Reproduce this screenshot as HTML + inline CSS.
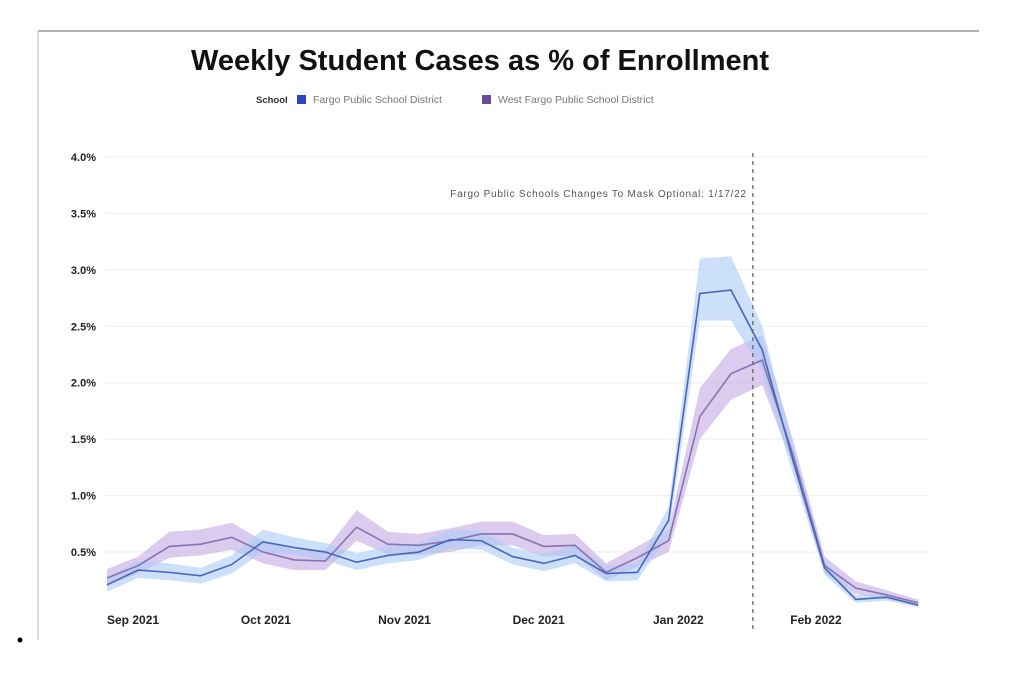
<!DOCTYPE html>
<html><head><meta charset="utf-8"><style>
body{margin:0;background:#fff;width:1024px;height:675px;overflow:hidden;font-family:"Liberation Sans",sans-serif}
</style></head><body>
<svg width="1024" height="675" xmlns="http://www.w3.org/2000/svg">
<line x1="38" y1="31" x2="979" y2="31" stroke="#999" stroke-width="1.5"/>
<line x1="38" y1="31" x2="38" y2="640" stroke="#bbb" stroke-width="1"/>
<circle cx="20" cy="640" r="2.5" fill="#000"/>
<text x="480" y="70" text-anchor="middle" font-size="29" font-weight="bold" fill="#111">Weekly Student Cases as % of Enrollment</text>
<g font-size="10.5">
<text x="256" y="103" font-weight="bold" font-size="9.5" fill="#333">School</text>
<rect x="297" y="95" width="9" height="9" fill="#2a45c4"/>
<text x="313" y="103" fill="#777">Fargo Public School District</text>
<rect x="482" y="95" width="9" height="9" fill="#6a4a9a"/>
<text x="498" y="103" fill="#777">West Fargo Public School District</text>
</g>
<g id="plot"></g>
</svg>
<script>
const yTicks=[0.5,1.0,1.5,2.0,2.5,3.0,3.5,4.0];
const monthLabels=["Sep 2021","Oct 2021","Nov 2021","Dec 2021","Jan 2022","Feb 2022"];
const monthIdx=[0,4.29,8.69,13.0,17.5,21.9];
const maskWeek=20.7;
const fargo=[0.21,0.34,0.32,0.29,0.39,0.59,0.54,0.50,0.41,0.47,0.50,0.61,0.60,0.46,0.40,0.47,0.31,0.32,0.78,2.79,2.82,2.29,1.30,0.36,0.08,0.10,0.03];
const fargoLo=[0.15,0.27,0.25,0.22,0.31,0.50,0.47,0.43,0.34,0.40,0.43,0.53,0.52,0.39,0.33,0.40,0.24,0.25,0.65,2.55,2.55,2.10,1.18,0.30,0.05,0.07,0.01];
const fargoHi=[0.28,0.42,0.40,0.36,0.47,0.70,0.63,0.58,0.49,0.55,0.58,0.70,0.68,0.54,0.48,0.56,0.38,0.40,0.90,3.10,3.12,2.50,1.42,0.43,0.12,0.13,0.06];
const wf=[0.27,0.38,0.55,0.57,0.63,0.50,0.43,0.42,0.72,0.57,0.56,0.60,0.66,0.66,0.55,0.56,0.32,0.45,0.60,1.70,2.08,2.20,1.35,0.38,0.18,0.12,0.05];
const wfLo=[0.20,0.31,0.45,0.47,0.52,0.40,0.34,0.34,0.60,0.48,0.47,0.50,0.56,0.56,0.46,0.47,0.25,0.37,0.50,1.50,1.85,1.98,1.25,0.31,0.13,0.08,0.02];
const wfHi=[0.35,0.46,0.68,0.70,0.76,0.60,0.52,0.52,0.87,0.68,0.66,0.71,0.77,0.77,0.65,0.66,0.40,0.55,0.70,1.95,2.30,2.42,1.48,0.46,0.24,0.16,0.08];
const NS="http://www.w3.org/2000/svg";
const g=document.getElementById('plot');
const X=i=>107+i*31.2, Y=v=>608.5-v*112.9;
function mk(t,a){const e=document.createElementNS(NS,t);for(const k in a)e.setAttribute(k,a[k]);g.appendChild(e);return e;}
yTicks.forEach(v=>{
 const l=mk('line',{x1:105,x2:928,y1:Y(v),y2:Y(v),stroke:'#eee','stroke-width':1});
 
 
 const t=mk('text',{x:96,y:Y(v)+4,'text-anchor':'end','font-size':11,'font-weight':'bold',fill:'#222'});
 t.textContent=v.toFixed(1)+'%';
 
 
});
monthLabels.forEach((m,i)=>{
 const t=mk('text',{x:X(monthIdx[i]),y:624,'font-size':12,'font-weight':'bold',fill:'#222'});
 t.textContent=m;
 
 
});
function band(lo,hi,col,name){
 let d='M'+lo.map((v,i)=>X(i)+','+Y(v)).join('L');
 for(let i=hi.length-1;i>=0;i--)d+='L'+X(i)+','+Y(hi[i]);
 const p=mk('path',{d:d+'Z',fill:col});
 
 
}
function line(vals,col,name){
 const p=mk('path',{d:'M'+vals.map((v,i)=>X(i)+','+Y(v)).join('L'),fill:'none',stroke:col,'stroke-width':1.6});
 
 
}
band(wfLo,wfHi,'rgba(190,160,225,0.55)','west-fargo-band');
band(fargoLo,fargoHi,'rgba(170,205,245,0.6)','fargo-band');
line(wf,'#8a72b0','west-fargo-line');
line(fargo,'#4a64b8','fargo-line');
const dl=mk('line',{x1:X(maskWeek),x2:X(maskWeek),y1:153,y2:632,stroke:'#666','stroke-width':1.3,'stroke-dasharray':'4,4'});


const at=mk('text',{x:X(maskWeek)-6,y:197,'text-anchor':'end','font-size':10,'letter-spacing':'0.75',fill:'#555'});
at.textContent='Fargo Public Schools Changes To Mask Optional: 1/17/22';


</script>
</body></html>
